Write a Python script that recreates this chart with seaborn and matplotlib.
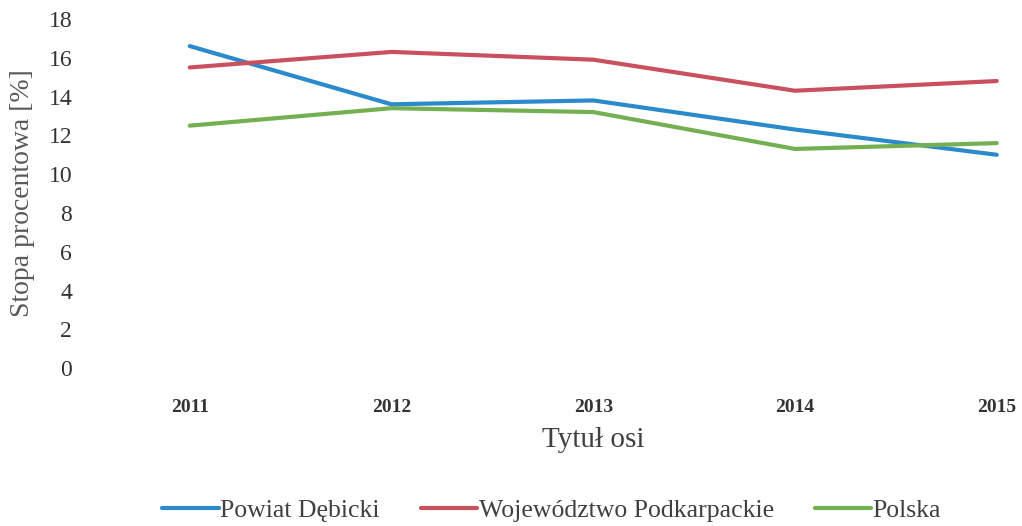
import pandas as pd
import matplotlib.pyplot as plt
import seaborn as sns

years = ["2011", "2012", "2013", "2014", "2015"]
powiat = [16.6, 13.6, 13.8, 12.3, 11.0]
wojewodztwo = [15.5, 16.3, 15.9, 14.3, 14.8]
polska = [12.5, 13.4, 13.2, 11.3, 11.6]
series_names = ["Powiat Dębicki", "Województwo Podkarpackie", "Polska"]
colors = ["#2B8ACB", "#C9505E", "#74B052"]

df = pd.DataFrame({
    "rok": years * 3,
    "stopa": powiat + wojewodztwo + polska,
    "seria": [n for n in series_names for _ in years],
})

sns.set_style("white")
plt.rcParams["font.family"] = ["Liberation Serif", "DejaVu Serif"]

fig = plt.figure(figsize=(10.22, 5.26), dpi=100)
# plot area runs past the right edge (the source image is cropped there)
ax = fig.add_axes([0.087, 0.300, 0.987, 0.664])

sns.lineplot(data=df, x="rok", y="stopa", hue="seria", hue_order=series_names,
             palette=colors, linewidth=3, ax=ax, sort=False)

ax.set_ylim(0, 18)
ax.set_yticks(range(0, 19, 2))
ax.set_xlim(-0.5, 4.5)
sns.despine(ax=ax, left=True, bottom=True)
ax.tick_params(axis="both", length=0)
ax.tick_params(axis="y", labelsize=17, labelcolor="#333333", pad=12)
ax.tick_params(axis="x", labelsize=14, labelcolor="#333333", pad=22)
for t in ax.get_xticklabels():
    t.set_fontweight("bold")

ax.set_xlabel("Tytuł osi", fontsize=21, color="#404040", labelpad=8)
ax.set_ylabel("Stopa procentowa [%]", fontsize=20, color="#595959", labelpad=10)

handles, labels = ax.get_legend_handles_labels()
ax.legend_.remove()
fig.legend(handles, labels, loc="center", bbox_to_anchor=(0.54, 0.03),
           ncol=3, frameon=False, fontsize=18.5, handlelength=2.2,
           handletextpad=0.05, columnspacing=1.6, labelcolor="#404040")

fig.savefig("out.png", dpi=100)
